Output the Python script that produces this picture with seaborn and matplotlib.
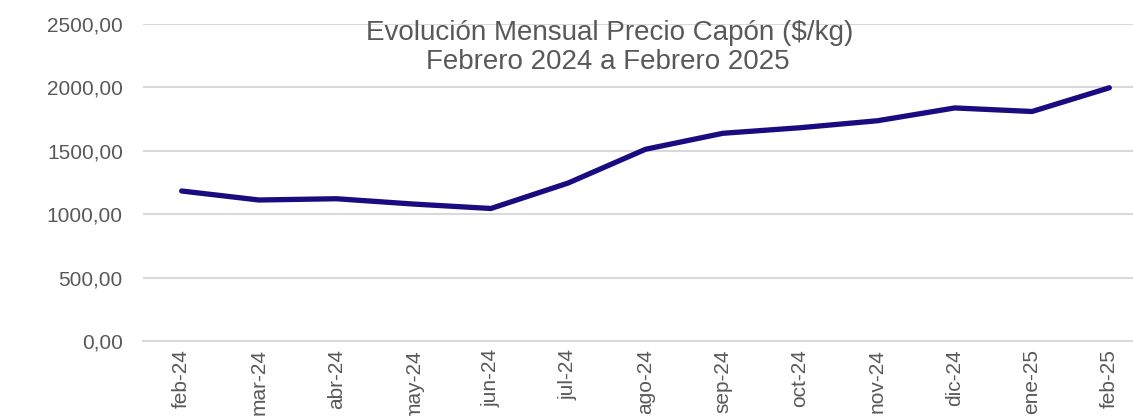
import seaborn as sns
import matplotlib.pyplot as plt
import matplotlib.ticker as mticker
import numpy as np
import pandas as pd

meses = ["feb-24", "mar-24", "abr-24", "may-24", "jun-24", "jul-24", "ago-24",
         "sep-24", "oct-24", "nov-24", "dic-24", "ene-25", "feb-25"]
precio = [1183, 1112, 1122, 1080, 1045, 1246, 1512, 1638, 1682, 1737, 1838, 1810, 1997]
yticks = [0, 500, 1000, 1500, 2000, 2500]

df = pd.DataFrame({"pos": np.arange(len(meses)), "mes": meses, "precio": precio})

sns.set_style("white")
plt.rcParams["font.family"] = ["Liberation Sans", "DejaVu Sans"]

fig = plt.figure(figsize=(11.33, 4.16), dpi=100)
ax = fig.add_axes([143 / 1133, 75 / 416, 1005 / 1133, 317 / 416])

gris = "#595959"
linea = "#d9d9d9"

for y in yticks[1:]:
    ax.axhline(y, color=linea, lw=1.5, zorder=0)

sns.lineplot(data=df, x="pos", y="precio", ax=ax, color="#180c80", lw=3.8,
             solid_capstyle="round", solid_joinstyle="round")

ax.set_xlim(-0.5, len(meses) - 0.5)
ax.set_ylim(0, 2500)
ax.set_yticks(yticks)
ax.set_yticklabels([f"{v:.2f}".replace(".", ",") for v in yticks])
ax.set_xticks(df["pos"])
ax.set_xticklabels(meses, rotation=90, va="top")
ax.xaxis.set_minor_locator(mticker.FixedLocator(np.arange(-0.5, len(meses), 1.0)))
ax.tick_params(axis="x", which="major", length=0, pad=6, labelsize=15, labelcolor=gris)
ax.tick_params(axis="x", which="minor", length=7, width=1.5, color=linea)
ax.tick_params(axis="y", length=0, pad=14.5, labelsize=15, labelcolor=gris)

for s in ["left", "right", "top"]:
    ax.spines[s].set_visible(False)
ax.spines["bottom"].set_color(linea)
ax.spines["bottom"].set_linewidth(1.5)
ax.set_xlabel("")
ax.set_ylabel("")

fig.text(610 / 1133, 1 - 33 / 416, "Evolución Mensual Precio Capón ($/kg)",
         ha="center", va="center", fontsize=20, color=gris)
fig.text(608 / 1133, 1 - 62 / 416, "Febrero 2024 a Febrero 2025",
         ha="center", va="center", fontsize=20, color=gris)

fig.savefig("out.png", dpi=100)
